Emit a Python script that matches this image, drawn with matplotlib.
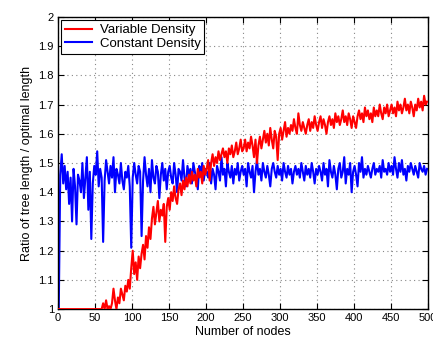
import numpy as np
import matplotlib
matplotlib.use("Agg")
import matplotlib.pyplot as plt

plt.rcParams['font.family'] = ['Liberation Sans', 'DejaVu Sans']

nodes = np.arange(1, 501, 2)

constant_density = [
    1.00, 1.46, 1.53, 1.43, 1.49, 1.41, 1.47, 1.36, 1.45, 1.30, 1.48, 1.42, 1.29, 1.46, 1.44, 1.40, 1.50, 1.38, 1.45, 1.52, 1.34, 1.47, 1.24, 1.43, 1.49,
    1.46, 1.54, 1.42, 1.48, 1.45, 1.23, 1.44, 1.51, 1.47, 1.43, 1.49, 1.45, 1.52, 1.40, 1.48, 1.46, 1.43, 1.50, 1.44, 1.41, 1.47, 1.45, 1.49, 1.42, 1.21,
    1.45, 1.50, 1.46, 1.43, 1.49, 1.47, 1.25, 1.44, 1.52, 1.46, 1.42, 1.48, 1.40, 1.51, 1.45, 1.43, 1.49, 1.47, 1.38, 1.46, 1.50, 1.44, 1.48, 1.41, 1.47,
    1.49, 1.45, 1.43, 1.50, 1.46, 1.40, 1.48, 1.47, 1.44, 1.51, 1.45, 1.42, 1.49, 1.46, 1.48, 1.43, 1.50, 1.47, 1.45, 1.41, 1.49, 1.46, 1.50, 1.44, 1.48,
    1.47, 1.45, 1.50, 1.43, 1.48, 1.46, 1.41, 1.49, 1.47, 1.44, 1.52, 1.46, 1.48, 1.42, 1.50, 1.47, 1.45, 1.49, 1.43, 1.48, 1.46, 1.50, 1.44, 1.47, 1.49,
    1.46, 1.48, 1.42, 1.50, 1.47, 1.45, 1.49, 1.40, 1.47, 1.51, 1.46, 1.48, 1.44, 1.50, 1.47, 1.45, 1.49, 1.46, 1.42, 1.48, 1.50, 1.47, 1.45, 1.49, 1.46,
    1.48, 1.44, 1.50, 1.47, 1.45, 1.49, 1.46, 1.48, 1.43, 1.47, 1.49, 1.46, 1.48, 1.45, 1.50, 1.47, 1.44, 1.49, 1.46, 1.48, 1.45, 1.50, 1.47, 1.43, 1.48,
    1.46, 1.49, 1.47, 1.44, 1.50, 1.46, 1.48, 1.42, 1.51, 1.47, 1.45, 1.49, 1.46, 1.41, 1.48, 1.50, 1.45, 1.47, 1.52, 1.43, 1.48, 1.46, 1.50, 1.40, 1.47,
    1.49, 1.46, 1.42, 1.50, 1.47, 1.52, 1.45, 1.48, 1.46, 1.49, 1.47, 1.45, 1.48, 1.50, 1.46, 1.48, 1.47, 1.49, 1.45, 1.51, 1.47, 1.48, 1.46, 1.50, 1.47,
    1.49, 1.46, 1.52, 1.48, 1.45, 1.50, 1.47, 1.51, 1.46, 1.48, 1.44, 1.49, 1.47, 1.50, 1.48, 1.46, 1.49, 1.47, 1.45, 1.50, 1.48, 1.47, 1.49, 1.46, 1.48,
]

variable_density = [
    1.00, 1.00, 1.00, 1.00, 1.00, 1.00, 1.00, 1.00, 1.00, 1.00, 1.00, 1.00, 1.00, 1.00, 1.00, 1.00, 1.00, 1.00, 1.00, 1.00, 1.00, 1.00, 1.00, 1.00, 1.00,
    1.00, 1.00, 1.00, 1.00, 1.00, 1.02, 1.00, 1.03, 1.00, 1.01, 1.00, 1.02, 1.07, 1.03, 1.00, 1.04, 1.02, 1.07, 1.05, 1.03, 1.08, 1.06, 1.10, 1.07, 1.14,
    1.20, 1.12, 1.16, 1.10, 1.18, 1.14, 1.19, 1.22, 1.17, 1.25, 1.21, 1.28, 1.24, 1.31, 1.35, 1.29, 1.33, 1.37, 1.30, 1.34, 1.32, 1.36, 1.23, 1.35, 1.38,
    1.34, 1.40, 1.37, 1.42, 1.38, 1.36, 1.41, 1.43, 1.39, 1.44, 1.41, 1.45, 1.42, 1.46, 1.43, 1.47, 1.44, 1.46, 1.42, 1.48, 1.45, 1.47, 1.43, 1.49, 1.46,
    1.48, 1.51, 1.44, 1.50, 1.53, 1.49, 1.52, 1.50, 1.54, 1.51, 1.53, 1.55, 1.52, 1.54, 1.50, 1.55, 1.53, 1.56, 1.52, 1.54, 1.57, 1.53, 1.55, 1.58, 1.54,
    1.55, 1.58, 1.54, 1.57, 1.55, 1.59, 1.56, 1.52, 1.58, 1.50, 1.56, 1.59, 1.55, 1.58, 1.61, 1.57, 1.60, 1.56, 1.62, 1.58, 1.55, 1.61, 1.59, 1.51, 1.60,
    1.62, 1.58, 1.61, 1.64, 1.59, 1.62, 1.60, 1.63, 1.61, 1.65, 1.62, 1.60, 1.67, 1.63, 1.61, 1.64, 1.62, 1.60, 1.63, 1.65, 1.61, 1.64, 1.62, 1.66, 1.63,
    1.61, 1.64, 1.66, 1.62, 1.65, 1.63, 1.60, 1.64, 1.66, 1.63, 1.65, 1.62, 1.67, 1.64, 1.66, 1.63, 1.65, 1.68, 1.64, 1.66, 1.63, 1.67, 1.65, 1.62, 1.66,
    1.64, 1.62, 1.66, 1.68, 1.65, 1.67, 1.64, 1.69, 1.66, 1.68, 1.65, 1.67, 1.64, 1.69, 1.66, 1.68, 1.66, 1.70, 1.67, 1.65, 1.69, 1.67, 1.70, 1.66, 1.68,
    1.70, 1.67, 1.69, 1.66, 1.71, 1.68, 1.70, 1.67, 1.69, 1.72, 1.68, 1.70, 1.67, 1.71, 1.69, 1.66, 1.70, 1.68, 1.72, 1.69, 1.71, 1.68, 1.73, 1.70, 1.71,
]

x_ticks = list(range(0, 501, 50))
y_ticks = [1.0, 1.1, 1.2, 1.3, 1.4, 1.5, 1.6, 1.7, 1.8, 1.9, 2.0]
y_tick_labels = ['1', '1.1', '1.2', '1.3', '1.4', '1.5', '1.6', '1.7', '1.8', '1.9', '2']

fig = plt.figure(figsize=(4.33, 3.45), dpi=100)
ax = fig.add_axes([0.134, 0.104, 0.854, 0.847])

ax.plot(nodes, variable_density, color='#ff0000', lw=1.5, label='Variable Density', zorder=3)
ax.plot(nodes, constant_density, color='#0000ff', lw=1.5, label='Constant Density', zorder=2)

ax.set_xlim(0, 500)
ax.set_ylim(1, 2)
ax.set_xticks(x_ticks)
ax.set_yticks(y_ticks)
ax.set_yticklabels(y_tick_labels)
ax.tick_params(direction='in', top=True, right=True, labelsize=8, length=4, width=0.8, pad=3)
ax.grid(True, linestyle=(0, (1, 3)), color='#888888', linewidth=0.8)
for s in ax.spines.values():
    s.set_linewidth(1.0)

ax.set_xlabel('Number of nodes', fontsize=9, labelpad=2)
ax.set_ylabel('Ratio of tree length / optimal length', fontsize=9, labelpad=4)

leg = ax.legend(loc='upper left', fontsize=9.5, frameon=True, fancybox=False,
                edgecolor='black', framealpha=1, borderpad=0.3, labelspacing=0.1,
                handlelength=2.0, handletextpad=0.6, borderaxespad=0.25)
leg.get_frame().set_linewidth(0.8)

fig.savefig('out.png', dpi=100)
